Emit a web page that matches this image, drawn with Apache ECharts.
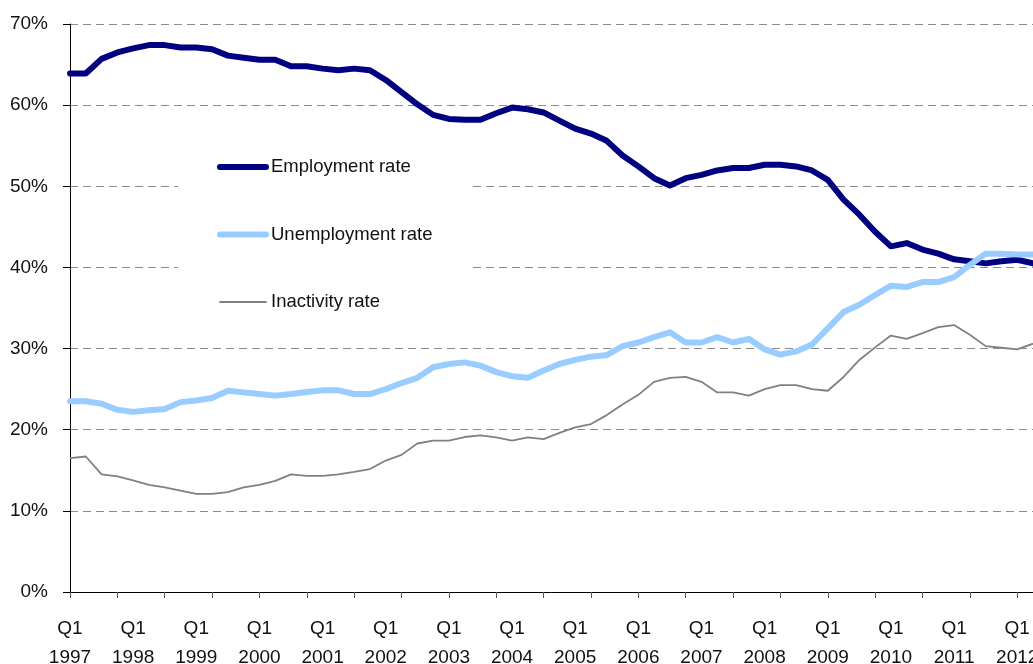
<!DOCTYPE html>
<html>
<head>
<meta charset="utf-8">
<title>Employment, unemployment and inactivity rates</title>
<script src="https://cdn.jsdelivr.net/npm/echarts@6/dist/echarts.min.js"></script>
<style>
  html, body { margin: 0; padding: 0; background: #fff; }
  #chart { width: 1033px; height: 664px; }
</style>
</head>
<body>
<div id="chart"></div>
<script>
// Quarterly axis, Q1 1997 to Q2 2012
const years = [1997, 1998, 1999, 2000, 2001, 2002, 2003, 2004, 2005, 2006, 2007, 2008, 2009, 2010, 2011, 2012];
const quarters = ['Q1', 'Q2', 'Q3', 'Q4'];
const lastQuarterIndex = 1; // data ends in Q2 of the final year

// Rates, % (one value per quarter)
const employmentRate = [
  63.9, 63.9, 65.7, 66.5, 67.0, 67.4, 67.4, 67.1, 67.1, 66.9,
  66.1, 65.85, 65.6, 65.6, 64.8, 64.8, 64.5, 64.3, 64.5, 64.3,
  63.1, 61.6, 60.1, 58.8, 58.3, 58.2, 58.2, 59.0, 59.7, 59.5,
  59.1, 58.1, 57.1, 56.5, 55.6, 53.8, 52.45, 51.0, 50.1, 51.0,
  51.4, 51.95, 52.25, 52.25, 52.65, 52.65, 52.45, 51.95, 50.8, 48.35,
  46.5, 44.4, 42.6, 43.0, 42.2, 41.7, 41.0, 40.75, 40.5, 40.75,
  40.95, 40.5
];
const unemploymentRate = [
  23.5, 23.5, 23.2, 22.45, 22.2, 22.4, 22.55, 23.4, 23.6, 23.9,
  24.8, 24.6, 24.4, 24.2, 24.4, 24.65, 24.85, 24.85, 24.4, 24.4,
  25.0, 25.75, 26.4, 27.7, 28.1, 28.3, 27.9, 27.1, 26.6, 26.4,
  27.3, 28.1, 28.6, 29.0, 29.2, 30.3, 30.75, 31.4, 32.0, 30.75,
  30.75, 31.4, 30.75, 31.2, 29.9, 29.25, 29.65, 30.5, 32.5, 34.5,
  35.4, 36.6, 37.75, 37.6, 38.2, 38.2, 38.8, 40.3, 41.7, 41.7,
  41.6, 41.6
];
const inactivityRate = [
  16.5, 16.7, 14.5, 14.25, 13.75, 13.2, 12.9, 12.5, 12.1, 12.1,
  12.3, 12.9, 13.2, 13.7, 14.5, 14.3, 14.3, 14.5, 14.8, 15.15,
  16.2, 16.9, 18.3, 18.65, 18.65, 19.1, 19.3, 19.05, 18.65, 19.05,
  18.85, 19.6, 20.3, 20.7, 21.8, 23.1, 24.3, 25.9, 26.4, 26.5,
  25.9, 24.6, 24.6, 24.2, 25.0, 25.5, 25.5, 25.0, 24.8, 26.5,
  28.6, 30.15, 31.6, 31.2, 31.9, 32.65, 32.9, 31.7, 30.3, 30.1,
  29.9, 30.6
];

// Y axis ticks, %
const yMin = 0, yMax = 70, yStep = 10;

const seriesNames = ['Employment rate', 'Unemployment rate', 'Inactivity rate'];

// Category labels: "Qn\nYYYY"
const categories = [];
years.forEach((y, yi) => {
  quarters.forEach((q, qi) => {
    if (yi === years.length - 1 && qi > lastQuarterIndex) return;
    categories.push(q + '\n' + y);
  });
});

const FONT = '"Liberation Sans", Arial, Helvetica, sans-serif';

const chart = echarts.init(document.getElementById('chart'), null, { renderer: 'canvas' });

chart.setOption({
  animation: false,
  backgroundColor: '#ffffff',
  textStyle: { fontFamily: FONT },
  grid: {
    left: 70, right: 0, top: 24, bottom: 72,
    containLabel: false,
    outerBoundsMode: 'none'
  },
  legend: {
    data: seriesNames,
    orient: 'vertical',
    left: 178,
    top: 125,
    padding: [30, 37, 30, 39],
    itemGap: 43.5,
    itemWidth: 46,
    itemHeight: 2,
    backgroundColor: '#ffffff',
    selectedMode: false,
    // legend swatches are plain lines in each series' colour and width
    itemStyle: { opacity: 0 },
    lineStyle: { width: 'inherit', cap: 'round' },
    textStyle: { fontFamily: FONT, fontSize: 18.5, color: '#111', lineHeight: 24 }
  },
  xAxis: {
    type: 'category',
    data: categories,
    boundaryGap: false,
    axisLine: { lineStyle: { color: '#000', width: 1 } },
    axisTick: { show: true, interval: 2, length: 6, lineStyle: { color: '#555' } },
    axisLabel: {
      interval: 3,
      margin: 22,
      fontFamily: FONT,
      fontSize: 19,
      lineHeight: 29,
      color: '#111',
      align: 'center'
    },
    splitLine: { show: false }
  },
  yAxis: {
    type: 'value',
    min: yMin,
    max: yMax,
    interval: yStep,
    axisLine: { show: true, lineStyle: { color: '#000', width: 1 } },
    axisTick: { show: true, length: 7, lineStyle: { color: '#000' } },
    axisLabel: {
      formatter: '{value}%',
      margin: 22,
      fontFamily: FONT,
      fontSize: 19,
      color: '#111'
    },
    splitLine: { show: true, lineStyle: { color: '#8c8c8c', width: 1, type: [8, 5] } }
  },
  series: [
    {
      name: seriesNames[0],
      type: 'line',
      data: employmentRate,
      symbol: 'none',
      color: '#000080',
      lineStyle: { color: '#000080', width: 6, join: 'round', cap: 'round' }
    },
    {
      name: seriesNames[1],
      type: 'line',
      data: unemploymentRate,
      symbol: 'none',
      color: '#99ccff',
      lineStyle: { color: '#99ccff', width: 6, join: 'round', cap: 'round' }
    },
    {
      name: seriesNames[2],
      type: 'line',
      data: inactivityRate,
      symbol: 'none',
      color: '#808080',
      lineStyle: { color: '#808080', width: 1.8, join: 'round' }
    }
  ]
});
</script>
</body>
</html>
